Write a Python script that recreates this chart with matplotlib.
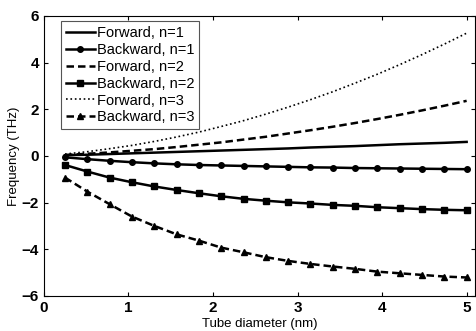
import matplotlib
matplotlib.use('Agg')
import matplotlib.pyplot as plt

plt.rcParams['font.family'] = ['Liberation Sans', 'DejaVu Sans']

d = [0.25, 0.514, 0.778, 1.042, 1.306, 1.569, 1.833, 2.097, 2.361, 2.625,
     2.889, 3.153, 3.417, 3.681, 3.944, 4.208, 4.472, 4.736, 5.0]

fw1 = [0.03, 0.05, 0.08, 0.11, 0.14, 0.17, 0.20, 0.23, 0.26, 0.29,
       0.32, 0.36, 0.39, 0.42, 0.46, 0.50, 0.53, 0.56, 0.60]
bw1 = [-0.06, -0.14, -0.21, -0.27, -0.32, -0.36, -0.39, -0.41, -0.43, -0.45,
       -0.47, -0.49, -0.50, -0.52, -0.53, -0.54, -0.55, -0.56, -0.57]
fw2 = [0.04, 0.09, 0.15, 0.22, 0.29, 0.38, 0.48, 0.58, 0.70, 0.82,
       0.96, 1.10, 1.25, 1.41, 1.58, 1.76, 1.95, 2.15, 2.36]
bw2 = [-0.39, -0.67, -0.93, -1.13, -1.31, -1.46, -1.60, -1.73, -1.84, -1.92,
       -1.99, -2.04, -2.10, -2.14, -2.20, -2.24, -2.28, -2.31, -2.33]
fw3 = [0.08, 0.18, 0.31, 0.45, 0.62, 0.81, 1.02, 1.26, 1.51, 1.79,
       2.09, 2.41, 2.75, 3.12, 3.50, 3.91, 4.34, 4.79, 5.26]
bw3 = [-0.93, -1.53, -2.07, -2.60, -3.00, -3.36, -3.63, -3.93, -4.13, -4.34,
       -4.50, -4.63, -4.74, -4.84, -4.96, -5.03, -5.10, -5.17, -5.21]

fig = plt.figure(figsize=(4.77, 3.31), dpi=100)
ax = fig.add_axes([0.092, 0.106, 0.904, 0.846])

dash = (3, 1.6)
ax.plot(d, fw1, 'k-', lw=1.8, label='Forward, n=1')
ax.plot(d, bw1, 'k-', lw=1.8, marker='o', ms=4, label='Backward, n=1')
ax.plot(d, fw2, 'k--', lw=1.8, dashes=dash, label='Forward, n=2')
ax.plot(d, bw2, 'k-', lw=1.8, marker='s', ms=4, label='Backward, n=2')
ax.plot(d, fw3, 'k:', lw=1.2, label='Forward, n=3')
ax.plot(d, bw3, 'k--', lw=1.8, dashes=dash, marker='^', ms=4.5, label='Backward, n=3')

ax.set_xlim(0, 5.1)
ax.set_ylim(-6, 6)
ax.set_xticks([0, 1, 2, 3, 4, 5])
ax.set_yticks([-6, -4, -2, 0, 2, 4, 6])
ax.tick_params(direction='in', top=True, right=True, labelsize=11, length=3)
for t in ax.get_xticklabels() + ax.get_yticklabels():
    t.set_fontweight('bold')
ax.set_xlabel('Tube diameter (nm)', fontsize=9.5, labelpad=2)
ax.set_ylabel('Frequency (THz)', fontsize=9.5, labelpad=1)

leg = ax.legend(loc='upper left', fontsize=10.5, handlelength=2.0, handletextpad=0.15,
                labelspacing=0.2, borderpad=0.3, fancybox=False, framealpha=1,
                bbox_to_anchor=(0.04, 0.98), borderaxespad=0)
leg.get_frame().set_edgecolor('#555555')
leg.get_frame().set_linewidth(0.8)

fig.savefig('out.png', dpi=100)
